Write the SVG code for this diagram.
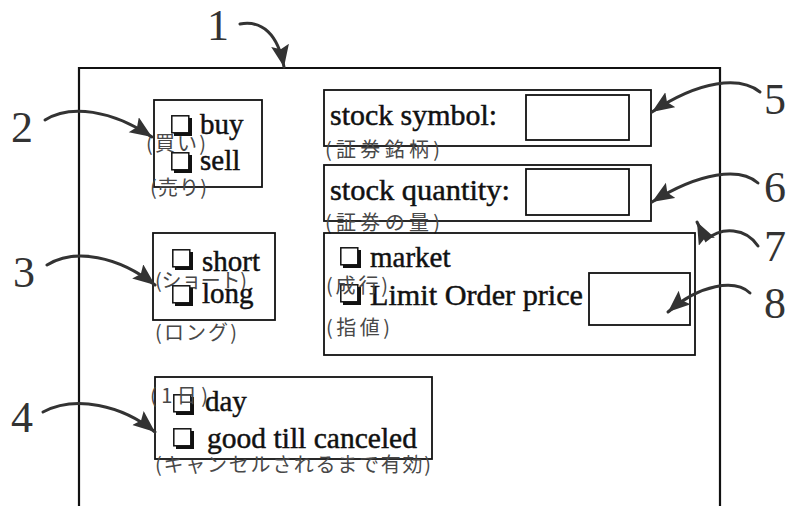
<svg xmlns="http://www.w3.org/2000/svg" width="788" height="506" viewBox="0 0 788 506">
<style>
.box{fill:none;stroke:#111;stroke-width:1.8}
.inp{fill:#fff;stroke:#111;stroke-width:1.8}
.lbl{font-family:"Liberation Serif","Times New Roman",serif;font-size:29px;fill:#111;stroke:#111;stroke-width:0.45}
.jp{font-family:"Noto Sans CJK JP","Noto Sans CJK SC",sans-serif;font-size:20px;fill:#484848}
.num{font-family:"Liberation Serif","Times New Roman",serif;font-size:44px;fill:#333}
.arr{fill:none;stroke:#333;stroke-width:3;stroke-linecap:round;marker-end:url(#ah)}
</style>
<defs>
<marker id="ah" markerUnits="userSpaceOnUse" markerWidth="24" markerHeight="20" refX="22" refY="9" orient="auto">
<path d="M0,0 L22,9 L0,18 L4,9 Z" fill="#333"/>
</marker>
<g id="cb">
<rect x="0.8" y="0.8" width="17" height="17" fill="#fff" stroke="#111" stroke-width="1.5"/>
<path d="M3,19.5 H19.5 V3" fill="none" stroke="#111" stroke-width="3"/>
</g>
</defs>
<rect width="788" height="506" fill="#fff"/>

<g id="frame">
<path d="M79,506 V68 H720 V506" fill="none" stroke="#111" stroke-width="2.2"/>
</g>

<g id="node-buysell">
<rect class="box" x="154" y="100" width="108" height="87"/>
<use href="#cb" x="171" y="115"/>
<text class="lbl" x="200" y="134">buy</text>
<text class="jp" x="146" y="151" textLength="60" lengthAdjust="spacing">(買い)</text>
<use href="#cb" x="171" y="152"/>
<text class="lbl" x="200" y="170">sell</text>
<text class="jp" x="150" y="195" textLength="57" lengthAdjust="spacing">(売り)</text>
</g>

<g id="node-shortlong">
<rect class="box" x="153" y="233" width="122" height="87"/>
<use href="#cb" x="172" y="249"/>
<text class="lbl" x="202" y="271">short</text>
<text class="jp" x="155" y="288" textLength="92" lengthAdjust="spacing">(ショート)</text>
<use href="#cb" x="172" y="285"/>
<text class="lbl" x="202" y="303">long</text>
<text class="jp" x="155" y="340" textLength="82" lengthAdjust="spacing">(ロング)</text>
</g>

<g id="node-duration">
<rect class="box" x="155" y="377" width="277" height="82"/>
<use href="#cb" x="173" y="394"/>
<text class="jp" x="150" y="403" textLength="58" lengthAdjust="spacing">(1日)</text>
<text class="lbl" x="205" y="411">day</text>
<use href="#cb" x="173" y="428"/>
<text class="lbl" x="207" y="448" textLength="210" lengthAdjust="spacingAndGlyphs">good till canceled</text>
<text class="jp" x="155" y="472" textLength="276" lengthAdjust="spacing">(キャンセルされるまで有効)</text>
</g>

<g id="node-symbol">
<rect class="box" x="324" y="90" width="327" height="56"/>
<text class="lbl" x="330" y="125" textLength="167" lengthAdjust="spacingAndGlyphs">stock symbol:</text>
<rect class="inp" x="526" y="95" width="103" height="45"/>
<text class="jp" x="325" y="157" textLength="115" lengthAdjust="spacing">(証券銘柄)</text>
</g>

<g id="node-quantity">
<rect class="box" x="324" y="165" width="327" height="56"/>
<text class="lbl" x="330" y="200" textLength="180" lengthAdjust="spacingAndGlyphs">stock quantity:</text>
<rect class="inp" x="526" y="169" width="103" height="46"/>
<text class="jp" x="325" y="230" textLength="115" lengthAdjust="spacing">(証券の量)</text>
</g>

<g id="node-ordertype">
<rect class="box" x="324" y="233" width="371" height="122"/>
<use href="#cb" x="340" y="247"/>
<text class="lbl" x="370" y="267">market</text>
<use href="#cb" x="340" y="284"/>
<text class="lbl" x="370" y="305" textLength="213" lengthAdjust="spacingAndGlyphs">Limit Order price</text>
<text class="jp" x="326" y="293" textLength="62" lengthAdjust="spacing">(成行)</text>
<text class="jp" x="326" y="335" textLength="64" lengthAdjust="spacing">(指値)</text>
<rect class="inp" x="589" y="273" width="101" height="52" fill="none"/>
</g>

<g id="callouts">
<text class="num" x="207" y="40">1</text>
<text class="num" x="11" y="142">2</text>
<text class="num" x="13" y="287">3</text>
<text class="num" x="11" y="432">4</text>
<text class="num" x="764" y="114">5</text>
<text class="num" x="764" y="202">6</text>
<text class="num" x="764" y="261">7</text>
<text class="num" x="764" y="318">8</text>
</g>

<g id="connectors">
<path class="arr" d="M240,24 C262,20 278,34 284,67"/>
<path class="arr" d="M45,120 C70,104 112,110 152,137"/>
<path class="arr" d="M47,265 C75,248 118,256 155,285"/>
<path class="arr" d="M43,412 C75,395 122,405 155,432"/>
<path class="arr" d="M760,92 C740,76 700,80 652,112"/>
<path class="arr" d="M758,183 C740,167 700,172 652,202"/>
<path class="arr" d="M758,246 C746,228 722,226 706,240 L697,222"/>
<path class="arr" d="M750,293 C735,279 700,284 668,312"/>
</g>
</svg>
